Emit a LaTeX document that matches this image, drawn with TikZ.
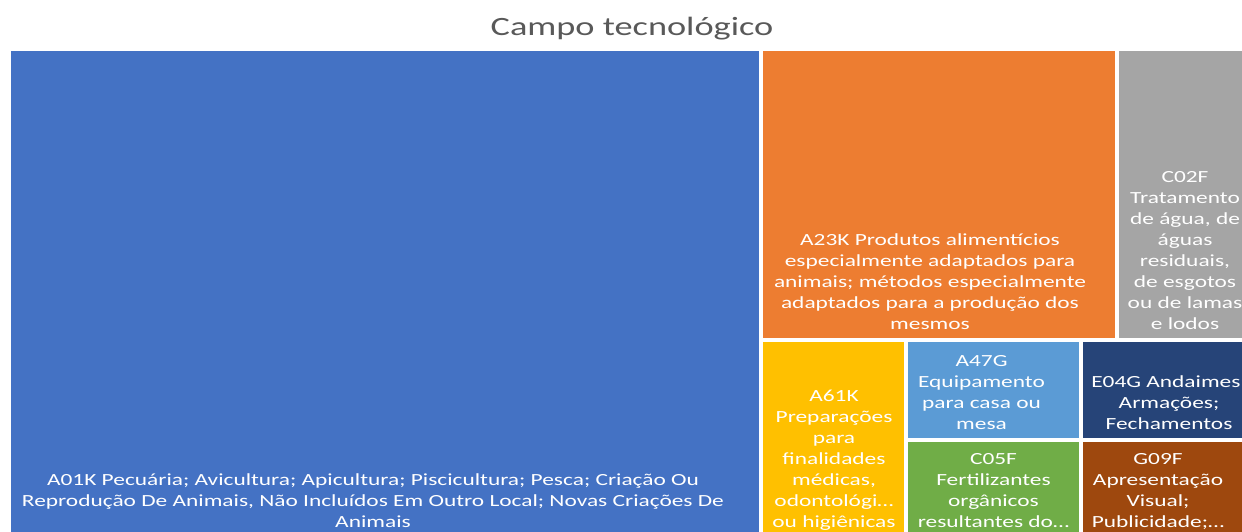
\documentclass[tikz,border=0pt]{standalone}
\usepackage{fontspec}
\setmainfont{Carlito}
\newfontfamily\lblfont[FakeStretch=1.375]{Carlito}
\definecolor{cblue}{HTML}{4472C4}
\definecolor{corange}{HTML}{ED7D31}
\definecolor{cgray}{HTML}{A5A5A5}
\definecolor{cyellow}{HTML}{FFC000}
\definecolor{clblue}{HTML}{5B9BD5}
\definecolor{cgreen}{HTML}{70AD47}
\definecolor{cdblue}{HTML}{264478}
\definecolor{cbrown}{HTML}{9E480E}
\definecolor{titlegray}{HTML}{595959}
\newcommand{\lastln}{\rule[-6pt]{0pt}{6pt}}
\begin{document}
\begin{tikzpicture}[x=1pt,y=-1pt,
  tile/.style={fill=#1, draw=none},
  lbl/.style={anchor=south, inner sep=0pt, align=center, text=white,
    font=\lblfont\fontsize{17}{21}\selectfont},
  ttl/.style={anchor=base, inner sep=0pt, text=titlegray,
    font=\lblfont\fontsize{26.4}{30}\selectfont}]
\clip (0,0) rectangle (1242,531);
\fill[white] (0,0) rectangle (1242,531);
% tiles
\fill[tile=cblue]   (11,51)   rectangle (759,540);
\fill[tile=corange] (763,51)  rectangle (1115,338);
\fill[tile=cgray]   (1119,51) rectangle (1250,338);
\fill[tile=cyellow] (763,342) rectangle (904,540);
\fill[tile=clblue]  (908,342) rectangle (1079,438);
\fill[tile=cdblue]  (1083,342) rectangle (1255,438);
\fill[tile=cgreen]  (908,442) rectangle (1079,540);
\fill[tile=cbrown]  (1083,442) rectangle (1255,540);
% title
\node[ttl] (title) at (632,35) {Campo tecnológico};
% labels
\node[lbl] (a01k) at (373,534) {A01K Pecuária; Avicultura; Apicultura; Piscicultura; Pesca; Criação Ou\\Reprodução De Animais, Não Incluídos Em Outro Local; Novas Criações De\\Animais\lastln};
\node[lbl] (a23k) at (930,336) {A23K Produtos alimentícios\\especialmente adaptados para\\animais; métodos especialmente\\adaptados para a produção dos\\mesmos\lastln};
\begin{scope}
\clip (1119,51) rectangle (1250,338);
\node[lbl] (c02f) at (1185,336) {C02F\\Tratamento\\de água, de\\águas\\residuais,\\de esgotos\\ou de lamas\\e lodos\lastln};
\end{scope}
\begin{scope}
\clip (763,342) rectangle (904,540);
\node[lbl] (a61k) at (834,534) {A61K\\Preparações\\para\\finalidades\\médicas,\\odontológi…\\ou higiênicas\lastln};
\end{scope}
\begin{scope}
\clip (908,342) rectangle (1079,438);
\node[lbl] (a47g) at (981.5,435.5) {A47G\\Equipamento\\para casa ou\\mesa\lastln};
\end{scope}
\begin{scope}
\clip (1083,342) rectangle (1255,438);
\node[lbl] (e04g) at (1169,435.5) {E04G Andaimes;\\Armações;\\Fechamentos\lastln};
\end{scope}
\begin{scope}
\clip (908,442) rectangle (1079,540);
\node[lbl] (c05f) at (993.5,534) {C05F\\Fertilizantes\\orgânicos\\resultantes do…\lastln};
\end{scope}
\begin{scope}
\clip (1083,442) rectangle (1255,540);
\node[lbl] (g09f) at (1158,534) {G09F\\Apresentação\\Visual;\\Publicidade;…\lastln};
\end{scope}
\end{tikzpicture}
\end{document}
